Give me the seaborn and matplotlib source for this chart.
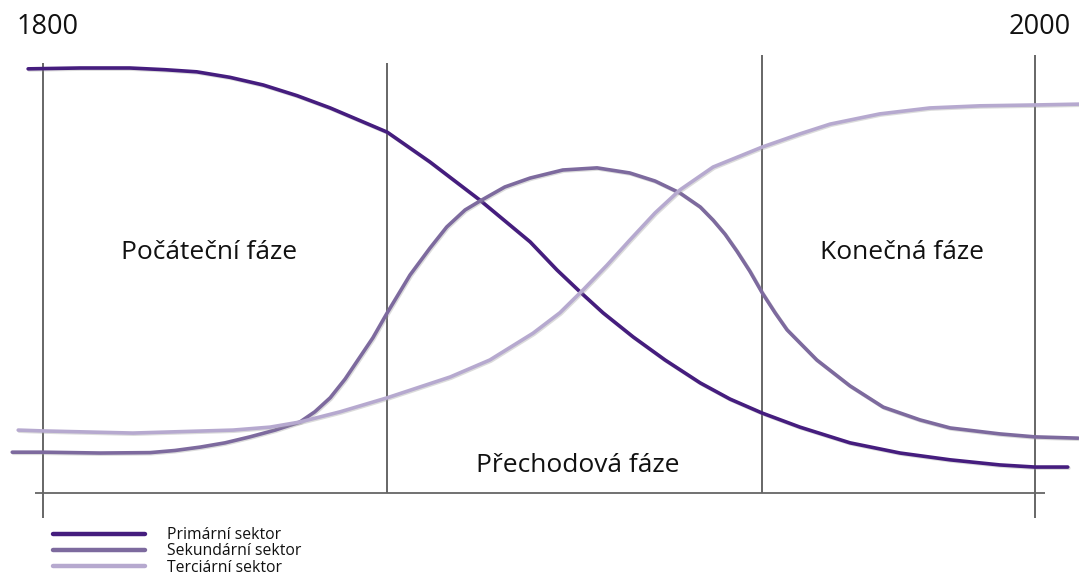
import matplotlib
matplotlib.use("Agg")
import matplotlib.pyplot as plt
import matplotlib.patheffects as pe
import numpy as np
import pandas as pd
import seaborn as sns

# ---- data (years, relative share of employment) ----
series_names = ["Primární sektor", "Sekundární sektor", "Terciární sektor"]

primary_year = [1797.0, 1807.5, 1817.5, 1824.6, 1831.0, 1837.7, 1844.4, 1851.2, 1857.9, 1869.4,
                1878.0, 1888.1, 1898.2, 1903.6, 1908.3, 1912.9, 1919.0, 1925.4, 1932.5, 1938.5,
                1945.0, 1952.6, 1962.7, 1972.8, 1982.9, 1992.9, 2000.0, 2006.6]
primary_share = [99.8, 100.0, 100.0, 99.6, 99.1, 97.8, 96.0, 93.5, 90.6, 84.9,
                 77.9, 68.9, 59.1, 52.5, 47.3, 42.4, 36.7, 31.3, 25.9, 22.1,
                 18.8, 15.5, 11.8, 9.4, 7.8, 6.6, 6.1, 6.1]

secondary_year = [1793.8, 1800.0, 1811.5, 1821.6, 1826.6, 1831.7, 1836.7, 1841.7, 1846.8, 1851.8,
                  1854.8, 1857.9, 1860.9, 1863.9, 1866.5, 1869.4, 1874.0, 1878.0, 1881.4, 1885.1,
                  1888.1, 1893.1, 1898.2, 1904.8, 1911.7, 1918.3, 1923.4, 1928.4, 1932.5, 1935.1,
                  1937.5, 1939.9, 1942.5, 1945.0, 1947.6, 1950.0, 1956.0, 1962.7, 1969.4, 1976.8,
                  1982.9, 1992.9, 2000.0, 2008.7]
secondary_share = [9.6, 9.6, 9.4, 9.5, 10.0, 10.8, 11.8, 13.2, 14.8, 16.7,
                   19.1, 22.4, 26.8, 32.0, 36.5, 42.4, 51.3, 57.6, 62.6, 66.6,
                   68.7, 72.0, 74.1, 76.0, 76.5, 75.3, 73.4, 70.6, 67.3, 64.2,
                   60.9, 56.9, 52.2, 47.1, 42.4, 38.4, 31.3, 25.2, 20.2, 17.2,
                   15.3, 13.9, 13.2, 12.9]

tertiary_year = [1795.0, 1800.0, 1818.1, 1838.3, 1845.8, 1851.8, 1859.9, 1869.4, 1882.1, 1890.1,
                 1898.8, 1904.2, 1908.9, 1913.7, 1918.3, 1923.4, 1928.4, 1935.1, 1945.0, 1952.6,
                 1958.7, 1968.7, 1978.8, 1988.9, 2000.0, 2008.9]
tertiary_share = [14.8, 14.6, 14.1, 14.8, 15.5, 16.7, 19.1, 22.4, 27.3, 31.3,
                  37.6, 42.4, 47.8, 53.6, 59.5, 65.9, 71.3, 76.7, 81.4, 84.5,
                  86.8, 89.2, 90.6, 91.1, 91.3, 91.5]

phase_bounds = [1800, 1869.4, 1945, 2000]
phase_names = ["Počáteční fáze", "Přechodová fáze", "Konečná fáze"]
year_labels = ["1800", "2000"]

colors = {"Primární sektor": "#451d7e", "Sekundární sektor": "#7d6a9e", "Terciární sektor": "#b6a9cf"}

df = pd.concat([
    pd.DataFrame({"rok": primary_year, "podil": primary_share, "sektor": series_names[0]}),
    pd.DataFrame({"rok": secondary_year, "podil": secondary_share, "sektor": series_names[1]}),
    pd.DataFrame({"rok": tertiary_year, "podil": tertiary_share, "sektor": series_names[2]}),
], ignore_index=True)

sns.set_theme(style="white")
plt.rcParams["font.family"] = ["Open Sans", "DejaVu Sans"]

fig = plt.figure(figsize=(10.79, 5.75), dpi=100)
ax = fig.add_axes([0, 0, 1, 1])
ax.set_xlim(1791.33, 2008.87)
ax.set_ylim(-19.3, 116.0)
ax.axis("off")

# phase boundaries and baseline
line_kw = dict(color="#4d4d4d", lw=1.2, zorder=1)
ax.vlines(phase_bounds[0], -5.9, 101.2, **line_kw)
ax.vlines(phase_bounds[1], 0, 101.2, **line_kw)
ax.vlines(phase_bounds[2], 0, 103.1, **line_kw)
ax.vlines(phase_bounds[3], -5.9, 103.1, **line_kw)
ax.hlines(0, 1798.4, 2002.0, color="#666666", lw=1.3, zorder=1)

sns.lineplot(data=df, x="rok", y="podil", hue="sektor", palette=colors,
             hue_order=series_names, estimator=None, sort=True, lw=2.6, ax=ax, zorder=3)
for ln in ax.get_lines()[:3]:
    ln.set_path_effects([pe.SimpleLineShadow(offset=(0.8, -0.8), shadow_color="#999999", alpha=0.35),
                         pe.Normal()])
    ln.set_solid_capstyle("round")
    ln.set_solid_joinstyle("round")

# texts
ax.text(1801.0, 109.6, year_labels[0], ha="center", va="center", fontsize=19.5, color="#111111")
ax.text(2001.0, 109.6, year_labels[1], ha="center", va="center", fontsize=19.5, color="#111111")
ax.text(1833.5, 56.7, phase_names[0], ha="center", va="center", fontsize=19, color="#111111")
ax.text(1907.9, 6.4, phase_names[1], ha="center", va="center", fontsize=19, color="#111111")
ax.text(1973.2, 56.7, phase_names[2], ha="center", va="center", fontsize=19, color="#111111")

leg = ax.legend(loc="upper left", bbox_to_anchor=(53 / 1079, 1 - 527 / 575),
                bbox_transform=fig.transFigure, frameon=False, fontsize=11.3,
                handlelength=5.85, handletextpad=1.4, labelspacing=0.02,
                borderpad=0, borderaxespad=0)
for h in leg.get_lines():
    h.set_linewidth(3.2)
    h.set_path_effects([])
for t in leg.get_texts():
    t.set_color("#111111")

fig.savefig("out.png", dpi=100)
